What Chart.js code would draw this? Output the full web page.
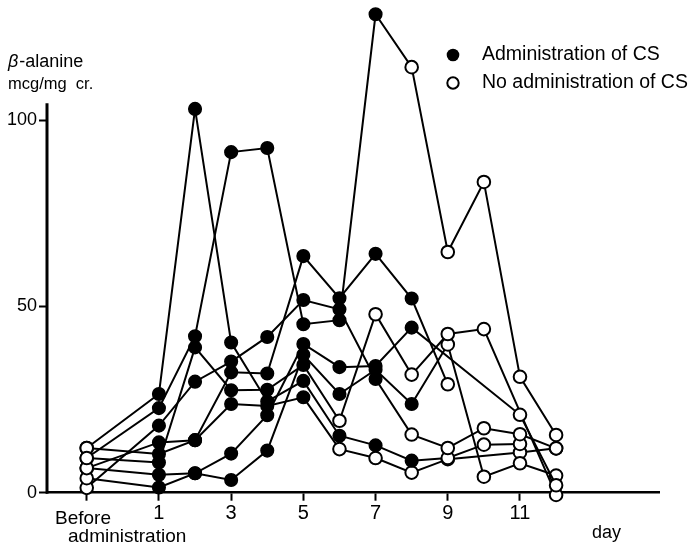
<!DOCTYPE html>
<html>
<head>
<meta charset="utf-8">
<script src="https://cdn.jsdelivr.net/npm/chart.js@4.4.1/dist/chart.umd.min.js"></script>
<style>
  html, body { margin: 0; padding: 0; background: #fff; }
  canvas { display: block; }
</style>
</head>
<body>
<canvas id="chart" width="695" height="545"></canvas>
<script>
// Sampling days (-1 = before administration)
const days = [-1, 1, 2, 3, 4, 5, 6, 7, 8, 9, 10, 11, 12];
const xTickValues = [-1, 1, 3, 5, 7, 9, 11];
const yTickValues = [0, 50, 100];
const yAxisTop = 104.5;   // the drawn vertical axis stops here; higher values run above it

// Urinary beta-alanine per subject, mcg/mg creatinine (null = no sample)
const subjectA = [9.3, 22.7, 42.0, 91.4, 92.5, 45.2, 46.3, 128.4, 114.2, 64.6, 83.4, 31.1, 15.5];
const subjectB = [12.0, 10.4, 14.1, 32.3, 32.0, 63.5, 52.2, 64.1, 52.1, 29.1, null, null, null];
const subjectC = [6.6, 4.8, 5.2, 10.5, 20.8, 39.9, 33.7, 34.0, 44.3, null, null, 20.9, 2.0];
const subjectD = [9.3, 8.1, 39.0, 27.5, 27.6, 34.3, 19.3, 47.9, 31.7, 42.6, 43.9, null, -0.6];
const subjectE = [3.9, 1.4, 5.2, 3.4, 11.3, 37.0, 26.5, 33.0, 23.8, 39.8, 4.3, 7.9, 4.6];
const subjectF = [1.3, 18.0, 29.8, 35.2, 41.8, 51.7, 49.2, 30.5, 15.6, 12.0, 17.3, 15.7, 11.9];
const subjectG = [12.0, 26.5, 103.0, 40.3, 24.5, 30.0, 15.3, 12.7, 8.6, 9.3, 12.9, 13.1, null];
const subjectH = [6.6, 13.5, 14.1, 23.8, 23.3, 25.6, 11.7, 9.3, 5.4, 9.0, null, 10.8, 11.9];

// Last day on which CS was given to each subject
const lastDoseDay = [7, 8, 8, 5, 8, 7, 8, 5];

const subjects = [subjectA, subjectB, subjectC, subjectD, subjectE, subjectF, subjectG, subjectH];

const legendLabels = ['Administration of CS', 'No administration of CS'];

const FONT = '"Liberation Sans", Arial, Helvetica, sans-serif';
const NARROW = '"Liberation Sans Narrow", "Arial Narrow", ' + FONT;

const datasets = subjects.map((values, k) => {
  const dosed = days.map(d => d >= 1 && d <= lastDoseDay[k]);
  return {
    data: days.map((d, i) => ({ x: d, y: values[i] })),
    borderColor: '#000',
    borderWidth: 2,
    tension: 0,
    spanGaps: true,
    clip: false,
    pointRadius: 6.3,
    pointBorderColor: '#000',
    pointBorderWidth: dosed.map(f => f ? 1.5 : 2),
    pointBackgroundColor: dosed.map(f => f ? '#000' : '#fff')
  };
});

// Vertical axis line, only up to yAxisTop
const yAxisLine = {
  id: 'yAxisLine',
  beforeDatasetsDraw(chart) {
    const y = chart.scales.y;
    const c = chart.ctx;
    c.save();
    c.strokeStyle = '#000';
    c.lineWidth = 3;
    c.beginPath();
    c.moveTo(chart.chartArea.left, y.getPixelForValue(0) + 1);
    c.lineTo(chart.chartArea.left, y.getPixelForValue(yAxisTop));
    c.stroke();
    c.restore();
  }
};

// Axis captions, unit label and marker key
const annotations = {
  id: 'annotations',
  afterDraw(chart) {
    const c = chart.ctx;
    c.save();
    c.fillStyle = '#000';
    c.textBaseline = 'middle';
    c.textAlign = 'left';

    c.font = 'italic 18px ' + FONT;
    c.fillText('\u03B2', 8, 62);
    const bw = c.measureText('\u03B2').width;
    c.font = '18px ' + FONT;
    c.fillText('-alanine', 8 + bw + 1, 62);

    c.font = '16.5px ' + FONT;
    c.fillText('mcg/mg  cr.', 8, 84);

    c.font = '19px ' + FONT;
    c.fillText('Before', 55, 519);
    c.fillText('administration', 68, 537);
    c.font = '18px ' + FONT;
    c.fillText('day', 592, 533);

    // key
    c.font = '19.5px ' + FONT;
    c.lineWidth = 2;
    c.strokeStyle = '#000';
    c.beginPath();
    c.arc(453, 55, 6.3, 0, Math.PI * 2);
    c.fill();
    c.fillText(legendLabels[0], 482, 55);
    c.beginPath();
    c.arc(453, 83, 5.7, 0, Math.PI * 2);
    c.fillStyle = '#fff';
    c.fill();
    c.stroke();
    c.fillStyle = '#000';
    c.fillText(legendLabels[1], 482, 83);
    c.restore();
  }
};

new Chart(document.getElementById('chart').getContext('2d'), {
  type: 'line',
  data: { datasets },
  options: {
    responsive: false,
    animation: false,
    events: [],
    layout: { padding: { top: 6.5, right: 36, left: 0, bottom: 0 } },
    plugins: { legend: { display: false }, tooltip: { enabled: false } },
    scales: {
      x: {
        type: 'linear',
        min: -2.1,
        max: 14.85,
        afterBuildTicks: s => { s.ticks = xTickValues.map(v => ({ value: v })); },
        afterFit: s => { s.height = 52.3; s.paddingLeft = 0; s.paddingRight = 0; },
        grid: { drawOnChartArea: false, drawTicks: true, tickLength: 8, tickColor: '#000', tickWidth: 2 },
        border: { color: '#000', width: 2.5 },
        ticks: {
          color: '#000',
          font: { family: FONT, size: 20 },
          padding: 1,
          maxRotation: 0,
          autoSkip: false,
          callback: v => (v === -1 ? '' : String(v))
        }
      },
      y: {
        type: 'linear',
        min: 0,
        max: 130,
        afterBuildTicks: s => { s.ticks = yTickValues.map(v => ({ value: v })); },
        afterFit: s => { s.width = 47; s.paddingTop = 0; s.paddingBottom = 0; },
        grid: { drawOnChartArea: false, drawTicks: true, tickLength: 8, tickColor: '#000', tickWidth: 2 },
        border: { display: false },
        ticks: {
          color: '#000',
          font: { family: NARROW, size: 18 },
          padding: 2
        }
      }
    }
  },
  plugins: [yAxisLine, annotations]
});
</script>
</body>
</html>
